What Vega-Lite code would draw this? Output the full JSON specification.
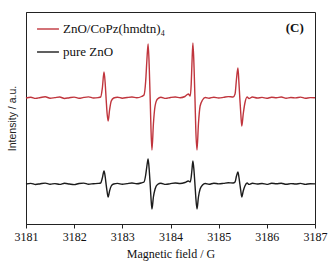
{
  "$schema": "https://vega.github.io/schema/vega-lite/v6.json",
  "width": 289,
  "height": 212,
  "autosize": {"type": "none"},
  "padding": {"left": 26, "top": 12, "right": 16, "bottom": 46},
  "background": "white",
  "config": {
    "view": {"stroke": "#222", "strokeWidth": 1},
    "font": "Liberation Serif"
  },
  "datasets": {
    "spectra": [
      {"f":3181.0,"red":126,"black":40},
      {"f":3181.1,"red":126.8,"black":40.6},
      {"f":3181.2,"red":125.6,"black":39.5},
      {"f":3181.3,"red":126.5,"black":40.3},
      {"f":3181.4,"red":127.2,"black":40.9},
      {"f":3181.5,"red":125.8,"black":39.8},
      {"f":3181.6,"red":126.4,"black":40.4},
      {"f":3181.7,"red":127,"black":39.6},
      {"f":3181.8,"red":125.5,"black":40.7},
      {"f":3181.9,"red":126.3,"black":40},
      {"f":3182.0,"red":126.9,"black":39.4},
      {"f":3182.1,"red":125.7,"black":40.5},
      {"f":3182.2,"red":126.6,"black":40.9},
      {"f":3182.3,"red":127.1,"black":39.8},
      {"f":3182.4,"red":126,"black":40.3},
      {"f":3182.5,"red":126.4,"black":40.6},
      {"f":3182.55,"red":127,"black":41},
      {"f":3182.585,"red":136,"black":46},
      {"f":3182.62,"red":152,"black":53},
      {"f":3182.645,"red":140,"black":47},
      {"f":3182.665,"red":124,"black":39},
      {"f":3182.685,"red":110,"black":32},
      {"f":3182.705,"red":103,"black":27},
      {"f":3182.735,"red":114,"black":33},
      {"f":3182.77,"red":123,"black":38},
      {"f":3182.82,"red":126,"black":40},
      {"f":3182.9,"red":126.8,"black":40.6},
      {"f":3183.0,"red":125.8,"black":39.7},
      {"f":3183.1,"red":126.5,"black":40.4},
      {"f":3183.2,"red":127,"black":41},
      {"f":3183.3,"red":126.2,"black":40.2},
      {"f":3183.4,"red":127.5,"black":41.2},
      {"f":3183.45,"red":129,"black":42},
      {"f":3183.485,"red":143,"black":49},
      {"f":3183.51,"red":164,"black":58},
      {"f":3183.535,"red":180,"black":65},
      {"f":3183.56,"red":155,"black":53},
      {"f":3183.58,"red":122,"black":38},
      {"f":3183.595,"red":95,"black":26},
      {"f":3183.615,"red":74,"black":15},
      {"f":3183.645,"red":100,"black":27},
      {"f":3183.68,"red":118,"black":35},
      {"f":3183.73,"red":125,"black":39.5},
      {"f":3183.8,"red":126.8,"black":40.7},
      {"f":3183.9,"red":125.6,"black":39.6},
      {"f":3184.0,"red":126.5,"black":40.4},
      {"f":3184.1,"red":127,"black":41},
      {"f":3184.2,"red":126.3,"black":40.5},
      {"f":3184.3,"red":127.5,"black":41.5},
      {"f":3184.37,"red":130,"black":43},
      {"f":3184.41,"red":128,"black":42},
      {"f":3184.43,"red":140,"black":47},
      {"f":3184.445,"red":160,"black":54},
      {"f":3184.465,"red":181,"black":63},
      {"f":3184.49,"red":155,"black":52},
      {"f":3184.51,"red":122,"black":38},
      {"f":3184.525,"red":95,"black":27},
      {"f":3184.55,"red":74,"black":15},
      {"f":3184.58,"red":100,"black":27},
      {"f":3184.615,"red":118,"black":35},
      {"f":3184.665,"red":124,"black":39},
      {"f":3184.72,"red":126.5,"black":40.5},
      {"f":3184.8,"red":125.8,"black":39.7},
      {"f":3184.9,"red":126.8,"black":40.8},
      {"f":3185.0,"red":126,"black":40.1},
      {"f":3185.1,"red":126.6,"black":40.6},
      {"f":3185.2,"red":127.4,"black":41.3},
      {"f":3185.3,"red":127,"black":41},
      {"f":3185.34,"red":130,"black":42},
      {"f":3185.37,"red":145,"black":48},
      {"f":3185.40,"red":156,"black":52},
      {"f":3185.42,"red":142,"black":47},
      {"f":3185.44,"red":125,"black":40},
      {"f":3185.46,"red":110,"black":33},
      {"f":3185.48,"red":98,"black":27},
      {"f":3185.51,"red":110,"black":33},
      {"f":3185.545,"red":121,"black":38},
      {"f":3185.59,"red":127,"black":41},
      {"f":3185.63,"red":125.5,"black":39.6},
      {"f":3185.7,"red":127,"black":40.8},
      {"f":3185.8,"red":126,"black":40},
      {"f":3185.9,"red":126.6,"black":40.5},
      {"f":3186.0,"red":125.7,"black":39.6},
      {"f":3186.1,"red":126.8,"black":40.7},
      {"f":3186.2,"red":126.2,"black":40.2},
      {"f":3186.3,"red":127,"black":40.8},
      {"f":3186.4,"red":125.8,"black":39.7},
      {"f":3186.5,"red":126.5,"black":40.4},
      {"f":3186.6,"red":126.1,"black":40},
      {"f":3186.7,"red":126.9,"black":40.6},
      {"f":3186.8,"red":125.7,"black":39.6},
      {"f":3186.9,"red":126.4,"black":40.3},
      {"f":3187.0,"red":126.2,"black":40.1}
    ],
    "labels": [
      {"f": 3186.58, "i": 196, "t": "(C)"}
    ]
  },
  "layer": [
    {
      "data": {"name": "spectra"},
      "transform": [{"fold": ["red", "black"], "as": ["series", "intensity"]}],
      "mark": {"type": "line", "strokeWidth": 1.4, "interpolate": "monotone"},
      "encoding": {
        "x": {
          "field": "f", "type": "quantitative",
          "scale": {"domain": [3181, 3187], "nice": false, "zero": false},
          "axis": {
            "title": "Magnetic field / G",
            "values": [3181, 3181.5, 3182, 3182.5, 3183, 3183.5, 3184, 3184.5, 3185, 3185.5, 3186, 3186.5, 3187],
            "labelExpr": "datum.value % 1 == 0 ? format(datum.value, 'd') : ''",
            "grid": false,
            "domainColor": "#222",
            "tickColor": "#222",
            "tickSize": 4,
            "labelFont": "Liberation Serif",
            "labelFontSize": 12,
            "labelColor": "#111",
            "labelPadding": 3,
            "labelFlush": false,
            "labelOverlap": false,
            "titleFont": "Liberation Serif",
            "titleFontSize": 12,
            "titleFontWeight": "normal",
            "titleColor": "#111",
            "titlePadding": 6
          }
        },
        "y": {
          "field": "intensity", "type": "quantitative",
          "scale": {"domain": [0, 212], "nice": false, "zero": false},
          "axis": {
            "title": "Intensity / a.u.",
            "labels": false,
            "ticks": false,
            "grid": false,
            "domainColor": "#222",
            "titleFont": "Liberation Sans",
            "titleFontSize": 10.5,
            "titleFontWeight": "normal",
            "titleColor": "#222",
            "titlePadding": 9
          }
        },
        "color": {
          "field": "series", "type": "nominal",
          "scale": {"domain": ["red", "black"], "range": ["#c0353d", "#1c1c1c"]},
          "legend": {
            "title": null,
            "orient": "none",
            "legendX": 10,
            "legendY": 5,
            "symbolType": "stroke",
            "symbolSize": 480,
            "symbolStrokeWidth": 1.4,
            "labelFont": "Liberation Serif",
            "labelFontSize": 13,
            "labelColor": "#111",
            "labelOffset": 3,
            "rowPadding": 4,
            "padding": 0,
            "labelExpr": "datum.label == 'red' ? 'ZnO/CoPz(hmdtn)₄' : 'pure ZnO'"
          }
        }
      }
    },
    {
      "data": {"name": "labels"},
      "mark": {"type": "text", "font": "Liberation Serif", "fontSize": 13, "fontWeight": "bold", "color": "#111"},
      "encoding": {
        "x": {"field": "f", "type": "quantitative"},
        "y": {"field": "i", "type": "quantitative"},
        "text": {"field": "t"}
      }
    }
  ]
}
